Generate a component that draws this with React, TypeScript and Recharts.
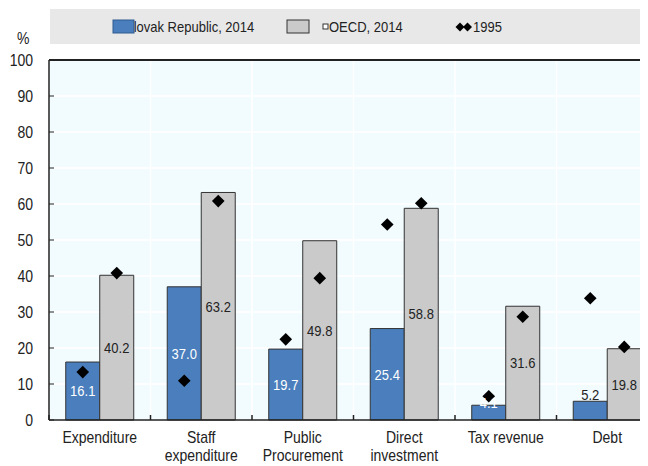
import React from "react"
import {
  ComposedChart,
  Bar,
  Line,
  XAxis,
  YAxis,
  CartesianGrid,
  LabelList,
  ReferenceLine,
} from "recharts"

const categories = [
  "Expenditure",
  "Staff\nexpenditure",
  "Public\nProcurement",
  "Direct\ninvestment",
  "Tax revenue",
  "Debt",
]
const slovak2014 = [16.1, 37.0, 19.7, 25.4, 4.1, 5.2]
const oecd2014 = [40.2, 63.2, 49.8, 58.8, 31.6, 19.8]
const slovak1995 = [13.3, 10.9, 22.4, 54.3, 6.6, 33.8]
const oecd1995 = [40.8, 60.8, 39.4, 60.2, 28.7, 20.3]
const yTicks = [0, 10, 20, 30, 40, 50, 60, 70, 80, 90, 100]

const data = categories.map((name, i) => ({
  name,
  sk: slovak2014[i],
  oecd: oecd2014[i],
  sk95: slovak1995[i],
  oecd95: oecd1995[i],
}))

const FONT = "'Liberation Sans', Arial, sans-serif"
const BLUE = "#4a7ebd"
const GREY = "#cacaca"
const EDGE = "#333333"
const STRETCH = 1.15

const CHART_W = 650
const CHART_H = 458
const Y_AXIS_W = 41
const GAP = 0.165
const CAT_W = (CHART_W - Y_AXIS_W) / categories.length
const BAR_SHIFT = (CAT_W * (1 - 2 * GAP)) / 4

// the source font is taller than it is wide, so text is stretched a little vertically
const SText = ({ x, y, anchor = "start", size = 13, fill = "#222", children }: any) => (
  <text
    transform={`translate(${x},${y}) scale(1,${STRETCH})`}
    textAnchor={anchor}
    dominantBaseline="central"
    fontSize={size}
    fontFamily={FONT}
    fill={fill}
  >
    {children}
  </text>
)

const CategoryTick = (props: any) => {
  const { x, y, payload } = props
  const half = payload && payload.offset ? payload.offset : CAT_W / 2
  const lines = String(payload.value).split("\n")
  return (
    <g>
      <line x1={x - half} x2={x - half} y1={y} y2={y - 5} stroke="#222" strokeWidth={1.5} />
      {lines.map((l, i) => (
        <SText key={i} x={x} y={y + 17 + i * 18} anchor="middle" size={14}>
          {l}
        </SText>
      ))}
    </g>
  )
}

const ValueTick = (props: any) => {
  const { x, y, payload } = props
  return (
    <SText x={x} y={y} anchor="end" size={14}>
      {payload.value}
    </SText>
  )
}

const makeDiamond = (shift: number) => (props: any) => {
  const { cx, cy, index } = props
  if (cx == null || cy == null) return <g key={index} />
  const x = cx + shift
  const r = 6.3
  return (
    <polygon
      key={index}
      points={`${x},${cy - r} ${x + r},${cy} ${x},${cy + r} ${x - r},${cy}`}
      fill="#000"
    />
  )
}

const skLabel = (props: any) => {
  const { x, y, width, height, value, index } = props
  const outside = categories[index] === "Debt"
  const cy = outside ? y - 7 : Math.min(y + height / 2, y + height - 17)
  return (
    <SText x={x + width / 2} y={cy} anchor="middle" fill={outside ? "#222" : "#ffffff"}>
      {Number(value).toFixed(1)}
    </SText>
  )
}

const oecdLabel = (props: any) => {
  const { x, y, width, height, value } = props
  return (
    <SText x={x + width / 2} y={y + height / 2} anchor="middle">
      {Number(value).toFixed(1)}
    </SText>
  )
}

const LegendBox = () => (
  <svg
    width={640}
    height={50}
    style={{ position: "absolute", left: 0, top: 0, pointerEvents: "none" }}
  >
    <rect x={42} y={1} width={600} height={35} fill="#e8e8e8" />
    <SText x={9} y={30} size={14}>
      %
    </SText>
    <SText x={117} y={19}>Slovak Republic, 2014</SText>
    <rect x={105} y={12} width={21} height={13} fill={BLUE} stroke="#2f5a8f" strokeWidth={1} />
    <rect x={279} y={12} width={22} height={13} fill={GREY} stroke={EDGE} strokeWidth={1} />
    <rect x={315} y={16} width={5} height={5} fill="#fff" stroke={EDGE} strokeWidth={1} />
    <SText x={321} y={19}>OECD, 2014</SText>
    <polygon points="452,14.5 456.5,19 452,23.5 447.5,19" fill="#000" />
    <polygon points="459.5,14.5 464,19 459.5,23.5 455,19" fill="#000" />
    <SText x={465} y={19}>1995</SText>
  </svg>
)

export default function App() {
  return (
    <div style={{ position: "relative", width: 640, height: CHART_H, overflow: "hidden" }}>
      <ComposedChart
        width={CHART_W}
        height={CHART_H}
        data={data}
        margin={{ top: 52, right: 0, left: 0, bottom: 0 }}
        barCategoryGap={`${GAP * 100}%`}
        barGap={0}
      >
        <CartesianGrid
          fill="#f2fbfe"
          stroke="#ffffff"
          strokeWidth={1.5}
          verticalCoordinatesGenerator={({ offset }: any) =>
            categories.map((_, i) => offset.left + (i * offset.width) / categories.length)
          }
        />
        <XAxis
          dataKey="name"
          height={46}
          interval={0}
          tickLine={false}
          tickSize={0}
          tickMargin={0}
          axisLine={{ stroke: "#222", strokeWidth: 1.5 }}
          tick={<CategoryTick />}
        />
        <YAxis
          width={Y_AXIS_W}
          domain={[0, 100]}
          ticks={yTicks}
          interval={0}
          tickSize={-5}
          tickMargin={21}
          axisLine={{ stroke: "#222", strokeWidth: 1.5 }}
          tickLine={{ stroke: "#222" }}
          tick={<ValueTick />}
        />
        <ReferenceLine y={100} stroke="#222" strokeWidth={2} />
        <Bar dataKey="sk" fill={BLUE} stroke={EDGE} strokeWidth={1} isAnimationActive={false}>
          <LabelList dataKey="sk" content={skLabel} />
        </Bar>
        <Bar dataKey="oecd" fill={GREY} stroke={EDGE} strokeWidth={1} isAnimationActive={false}>
          <LabelList dataKey="oecd" content={oecdLabel} />
        </Bar>
        <Line
          dataKey="sk95"
          stroke="none"
          dot={makeDiamond(-BAR_SHIFT)}
          activeDot={false}
          isAnimationActive={false}
        />
        <Line
          dataKey="oecd95"
          stroke="none"
          dot={makeDiamond(BAR_SHIFT)}
          activeDot={false}
          isAnimationActive={false}
        />
      </ComposedChart>
      <LegendBox />
    </div>
  )
}
